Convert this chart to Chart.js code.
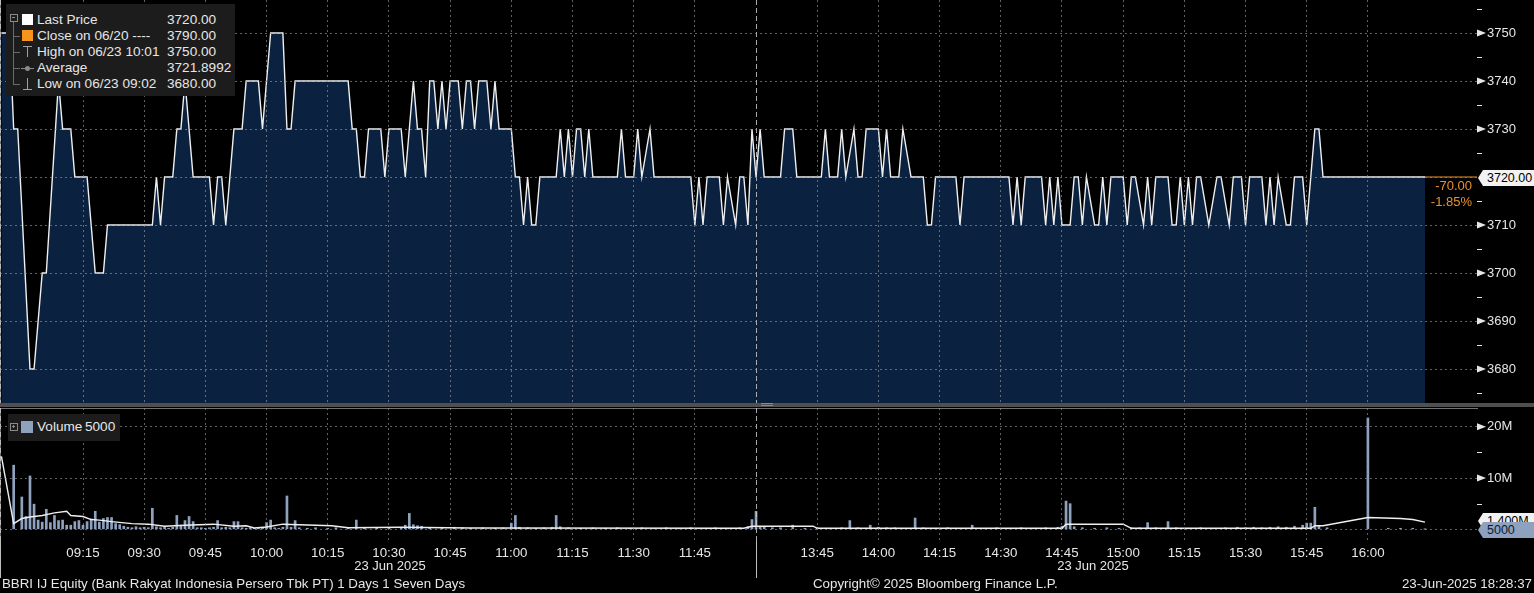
<!DOCTYPE html>
<html>
<head>
<meta charset="utf-8">
<script src="https://cdn.jsdelivr.net/npm/chart.js@4.4.1/dist/chart.umd.min.js"></script>
<style>
html, body { margin: 0; padding: 0; background: #000; overflow: hidden; }
body { width: 1534px; height: 593px; position: relative; font-family: 'Liberation Sans', Arial, sans-serif; color: #e6e6e6; }
canvas { position: absolute; left: 0; }
#cPrice { top: 0; }
#cVol { top: 408px; }
.abs { position: absolute; white-space: nowrap; }
.txt { font-size: 13px; line-height: 16px; }
.leg { font-size: 13.6px; line-height: 16px; }
.foot { font-size: 13.3px; line-height: 16px; }
.box { background: #1c1c1c; }
.tag { font-size: 12.5px; line-height: 16px; padding-left: 9px; clip-path: polygon(0 50%, 5px 0, 100% 0, 100% 100%, 5px 100%); }
</style>
</head>
<body>
<canvas id="cPrice" width="1534" height="403"></canvas>
<canvas id="cVol" width="1534" height="178"></canvas>

<!-- price legend -->
<div class="abs box" style="left:6px;top:4px;width:229px;height:92px"></div>
<div class="abs" style="left:10px;top:14px;width:6px;height:6px;border:1px solid #8a8a8a"></div>
<div class="abs" style="left:12px;top:17px;width:3px;height:1px;background:#8a8a8a"></div>
<div class="abs" style="left:13px;top:22px;width:1px;height:63px;background:#6a6a6a"></div>
<div class="abs" style="left:13px;top:36px;width:7px;height:1px;background:#6a6a6a"></div>
<div class="abs" style="left:13px;top:52px;width:7px;height:1px;background:#6a6a6a"></div>
<div class="abs" style="left:13px;top:68px;width:7px;height:1px;background:#6a6a6a"></div>
<div class="abs" style="left:13px;top:84px;width:7px;height:1px;background:#6a6a6a"></div>
<div class="abs" style="left:22px;top:14px;width:11px;height:11px;background:#fff"></div>
<div class="abs" style="left:22px;top:30px;width:11px;height:11px;background:#f7941d"></div>
<div class="abs" style="left:23px;top:46px;width:9px;height:1px;background:#a0a0a0"></div>
<div class="abs" style="left:27px;top:46px;width:1px;height:11px;background:#a0a0a0"></div>
<div class="abs" style="left:21px;top:68px;width:13px;height:1px;background:#8a8a8a"></div>
<div class="abs" style="left:25px;top:66px;width:5px;height:5px;border-radius:3px;background:#8a8a8a"></div>
<div class="abs" style="left:27px;top:78px;width:1px;height:11px;background:#a0a0a0"></div>
<div class="abs" style="left:23px;top:89px;width:9px;height:1px;background:#a0a0a0"></div>
<div class="abs leg" style="left:37px;top:12px">Last Price</div>
<div class="abs leg" style="left:167px;top:12px">3720.00</div>
<div class="abs leg" style="left:37px;top:28px">Close on 06/20 ----</div>
<div class="abs leg" style="left:167px;top:28px">3790.00</div>
<div class="abs leg" style="left:37px;top:44px">High on 06/23 10:01</div>
<div class="abs leg" style="left:167px;top:44px">3750.00</div>
<div class="abs leg" style="left:37px;top:60px">Average</div>
<div class="abs leg" style="left:167px;top:60px">3721.8992</div>
<div class="abs leg" style="left:37px;top:76px">Low on 06/23 09:02</div>
<div class="abs leg" style="left:167px;top:76px">3680.00</div>

<!-- last price tag and change -->
<div class="abs tag" style="left:1478px;top:170px;width:47px;height:16px;background:#f2f2f2;color:#000">3720.00</div>
<div class="abs txt" style="right:62px;top:178px;color:#e8902e;text-align:right">-70.00</div>
<div class="abs txt" style="right:62px;top:194px;color:#e8902e;text-align:right">-1.85%</div>

<!-- panel divider -->
<div class="abs" style="left:0;top:403px;width:1534px;height:4px;background:#4f4f4f"></div>
<div class="abs" style="left:761px;top:403px;width:12px;height:1px;background:#8a8a8a"></div>
<div class="abs" style="left:761px;top:405px;width:12px;height:1px;background:#8a8a8a"></div>

<!-- volume legend -->
<div class="abs box" style="left:8px;top:414px;width:112px;height:27px"></div>
<div class="abs" style="left:10px;top:423px;width:6px;height:6px;border:1px solid #8a8a8a"></div>
<div class="abs" style="left:12px;top:426px;width:3px;height:1px;background:#8a8a8a"></div>
<div class="abs" style="left:13px;top:425px;width:1px;height:3px;background:#8a8a8a"></div>
<div class="abs" style="left:21px;top:421px;width:12px;height:12px;background:#8ea2bf"></div>
<div class="abs leg" style="left:37px;top:419px">Volume</div>
<div class="abs leg" style="left:85px;top:419px">5000</div>

<!-- volume tags -->
<div class="abs tag" style="left:1478px;top:513px;width:47px;height:16px;background:#f2f2f2;color:#000">1.400M</div>
<div class="abs tag" style="left:1478px;top:522px;width:47px;height:16px;background:#8ea2bf;color:#0b1a33">5000</div>

<!-- bottom axis extras -->
<div class="abs" style="left:0;top:541px;width:1px;height:37px;background:#bdbdbd"></div>
<div class="abs" style="left:756px;top:541px;width:1px;height:37px;background:#bdbdbd"></div>
<div class="abs txt" style="left:340px;top:558px;width:100px;text-align:center">23 Jun 2025</div>
<div class="abs txt" style="left:1043px;top:558px;width:100px;text-align:center">23 Jun 2025</div>

<!-- footer -->
<div class="abs foot" style="left:2px;top:576px">BBRI IJ Equity (Bank Rakyat Indonesia Persero Tbk PT) 1 Days 1 Seven Days</div>
<div class="abs foot" style="left:813px;top:576px">Copyright© 2025 Bloomberg Finance L.P.</div>
<div class="abs foot" style="right:2px;top:576px">23-Jun-2025 18:28:37</div>

<script>
// ---- data ----
// last price, one vertex per traded minute where the line turns
const priceTimes = [
    '08:55', '08:57', '08:58', '08:59', '09:02', '09:03', '09:05', '09:06', '09:09', '09:10',
    '09:12', '09:13', '09:16', '09:18', '09:20', '09:21', '09:32', '09:33', '09:34', '09:35',
    '09:37', '09:38', '09:39', '09:40', '09:42', '09:46', '09:47', '09:48', '09:49', '09:50',
    '09:51', '09:52', '09:54', '09:55', '09:58', '09:59', '10:01', '10:04', '10:05', '10:06',
    '10:07', '10:20', '10:21', '10:22', '10:23', '10:24', '10:25', '10:28', '10:29', '10:30',
    '10:33', '10:34', '10:36', '10:37', '10:38', '10:39', '10:40', '10:41', '10:42', '10:43',
    '10:44', '10:45', '10:47', '10:48', '10:49', '10:50', '10:51', '10:52', '10:54', '10:55',
    '10:56', '10:57', '11:00', '11:01', '11:02', '11:03', '11:04', '11:05', '11:06', '11:07',
    '11:11', '11:12', '11:13', '11:14', '11:15', '11:16', '11:17', '11:18', '11:19', '11:20',
    '11:26', '11:27', '11:28', '11:30', '11:31', '11:32', '11:34', '11:35', '11:44', '11:45',
    '11:46', '11:47', '11:48', '11:51', '11:52', '11:53', '11:55', '11:56', '11:57', '11:58',
    '11:59', '13:30', '13:31', '13:32', '13:36', '13:37', '13:39', '13:40', '13:46', '13:47',
    '13:48', '13:50', '13:51', '13:52', '13:54', '13:55', '13:56', '13:57', '14:00', '14:01',
    '14:02', '14:03', '14:05', '14:06', '14:08', '14:11', '14:12', '14:13', '14:14', '14:19',
    '14:20', '14:21', '14:32', '14:33', '14:34', '14:35', '14:36', '14:40', '14:41', '14:42',
    '14:43', '14:44', '14:45', '14:47', '14:48', '14:49', '14:50', '14:51', '14:53', '14:54',
    '14:55', '14:56', '14:57', '15:00', '15:01', '15:02', '15:03', '15:05', '15:06', '15:07',
    '15:08', '15:11', '15:12', '15:13', '15:14', '15:15', '15:16', '15:17', '15:18', '15:19',
    '15:21', '15:23', '15:24', '15:26', '15:27', '15:29', '15:30', '15:31', '15:34', '15:35',
    '15:36', '15:37', '15:38', '15:40', '15:41', '15:42', '15:44', '15:45', '15:47', '15:48',
    '15:49', '16:14'
];
const priceValues = [
    3750, 3750, 3730, 3730, 3680, 3680, 3700, 3700, 3740, 3730,
    3730, 3720, 3720, 3700, 3700, 3710, 3710, 3720, 3710, 3720,
    3720, 3730, 3730, 3740, 3720, 3720, 3710, 3720, 3720, 3710,
    3720, 3730, 3730, 3740, 3740, 3730, 3750, 3750, 3730, 3730,
    3740, 3740, 3730, 3730, 3720, 3720, 3730, 3730, 3720, 3730,
    3730, 3720, 3740, 3730, 3730, 3720, 3740, 3740, 3730, 3740,
    3730, 3740, 3740, 3730, 3740, 3740, 3730, 3740, 3740, 3730,
    3740, 3730, 3730, 3720, 3720, 3710, 3720, 3710, 3710, 3720,
    3720, 3730, 3720, 3730, 3720, 3730, 3730, 3720, 3730, 3720,
    3720, 3730, 3720, 3720, 3730, 3720, 3730, 3720, 3720, 3710,
    3720, 3710, 3720, 3720, 3710, 3720, 3710, 3720, 3720, 3710,
    3730, 3720, 3730, 3720, 3720, 3730, 3730, 3720, 3720, 3730,
    3720, 3720, 3730, 3720, 3730, 3720, 3720, 3730, 3730, 3720,
    3730, 3720, 3720, 3730, 3720, 3720, 3710, 3710, 3720, 3720,
    3710, 3720, 3720, 3710, 3720, 3710, 3720, 3720, 3710, 3720,
    3710, 3720, 3710, 3710, 3720, 3720, 3710, 3720, 3710, 3710,
    3720, 3710, 3720, 3720, 3710, 3720, 3720, 3710, 3720, 3710,
    3720, 3720, 3710, 3710, 3720, 3710, 3720, 3710, 3720, 3720,
    3710, 3720, 3720, 3710, 3720, 3720, 3710, 3720, 3720, 3710,
    3720, 3710, 3720, 3710, 3710, 3720, 3720, 3710, 3730, 3730,
    3720, 3720
];

// volume per minute, millions of shares
const volTimes = [
    '08:58', '09:00', '09:01', '09:02', '09:03', '09:04', '09:05', '09:06', '09:07', '09:08',
    '09:09', '09:10', '09:11', '09:12', '09:13', '09:14', '09:15', '09:16', '09:17', '09:18',
    '09:19', '09:20', '09:21', '09:22', '09:23', '09:24', '09:25', '09:26', '09:27', '09:28',
    '09:29', '09:30', '09:31', '09:32', '09:33', '09:34', '09:35', '09:36', '09:37', '09:38',
    '09:39', '09:40', '09:41', '09:42', '09:43', '09:44', '09:45', '09:46', '09:47', '09:48',
    '09:49', '09:50', '09:51', '09:52', '09:53', '09:54', '09:55', '09:56', '09:57', '09:58',
    '09:59', '10:00', '10:01', '10:02', '10:03', '10:04', '10:05', '10:06', '10:07', '10:08',
    '10:10', '10:12', '10:15', '10:17', '10:20', '10:22', '10:24', '10:27', '10:30', '10:33',
    '10:34', '10:35', '10:36', '10:37', '10:38', '10:40', '10:43', '10:46', '10:48', '10:50',
    '10:53', '10:56', '10:58', '11:00', '11:01', '11:02', '11:04', '11:06', '11:08', '11:10',
    '11:11', '11:12', '11:14', '11:17', '11:20', '11:23', '11:26', '11:29', '11:32', '11:35',
    '11:38', '11:41', '11:44', '11:47', '11:50', '11:53', '11:56', '11:58', '11:59', '13:30',
    '13:31', '13:32', '13:34', '13:36', '13:39', '13:42', '13:45', '13:48', '13:51', '13:53',
    '13:55', '13:58', '14:00', '14:02', '14:04', '14:06', '14:09', '14:11', '14:14', '14:17',
    '14:20', '14:23', '14:26', '14:29', '14:32', '14:35', '14:38', '14:41', '14:44', '14:45',
    '14:46', '14:47', '14:48', '14:50', '14:53', '14:56', '14:59', '15:02', '15:04', '15:06',
    '15:08', '15:11', '15:13', '15:16', '15:19', '15:22', '15:25', '15:28', '15:30', '15:32',
    '15:34', '15:36', '15:38', '15:40', '15:42', '15:44', '15:45', '15:46', '15:47', '15:48',
    '15:50', '16:00', '16:05', '16:08', '16:11', '16:14'
];
const volValues = [
    12.5, 6.3, 2.5, 10.4, 4.9, 1.8, 1.4, 3.9, 1.3, 2.7,
    1.7, 1.8, 0.8, 0.8, 1.5, 1.7, 0.8, 1.5, 2.0, 3.5,
    1.4, 2.1, 2.3, 2.3, 1.1, 0.9, 0.6, 0.4, 0.3, 0.5,
    0.3, 0.4, 0.3, 4.1, 0.5, 0.3, 0.4, 0.2, 0.4, 2.7,
    0.8, 1.7, 2.5, 1.5, 0.3, 0.3, 0.2, 0.3, 0.4, 1.7,
    0.3, 0.4, 0.3, 1.5, 1.5, 0.3, 0.2, 0.3, 0.2, 0.3,
    0.2, 1.3, 1.8, 0.3, 0.2, 0.4, 6.5, 0.4, 1.7, 0.3,
    0.2, 0.3, 0.2, 0.3, 0.2, 1.8, 0.2, 0.3, 0.2, 0.3,
    0.8, 3.1, 0.9, 0.7, 0.6, 0.3, 0.2, 0.4, 0.3, 0.2,
    0.3, 0.2, 0.3, 1.2, 2.7, 0.4, 0.3, 0.2, 0.3, 0.4,
    2.7, 0.5, 0.3, 0.2, 0.3, 0.2, 0.3, 0.2, 0.3, 0.2,
    0.3, 0.2, 0.3, 0.2, 0.3, 0.2, 0.3, 0.5, 1.9, 3.5,
    0.6, 0.4, 0.3, 0.3, 0.8, 0.2, 0.3, 0.2, 0.3, 1.7,
    0.3, 0.8, 0.4, 0.3, 0.3, 0.2, 2.2, 0.3, 0.2, 0.3,
    0.2, 0.8, 0.2, 0.3, 0.2, 0.3, 0.2, 0.3, 0.4, 0.6,
    5.5, 5.0, 0.5, 0.3, 0.2, 0.3, 0.2, 0.3, 0.3, 1.3,
    0.3, 1.5, 0.3, 0.2, 0.3, 0.2, 0.3, 0.4, 0.3, 0.4,
    0.3, 0.4, 0.5, 0.4, 0.6, 0.8, 1.2, 1.2, 4.3, 0.6,
    0.3, 21.7, 0.2, 0.2, 0.2, 0.005
];

// running average of volume (white line in lower panel)
const avgTimes = [
    '08:55', '08:58', '09:00', '09:02', '09:05', '09:08', '09:11', '09:12', '09:15', '09:17',
    '09:19', '09:22', '09:27', '09:31', '09:35', '09:40', '09:47', '09:52', '09:55', '09:57',
    '10:00', '10:04', '10:08', '10:16', '10:20', '10:33', '10:50', '11:57', '11:59', '13:44',
    '13:45', '14:45', '14:46', '15:00', '15:02', '15:46', '15:47', '15:49', '16:00', '16:08',
    '16:11', '16:14'
];
const avgValues = [
    14.2, 1.1, 2.1, 2.4, 2.7, 3.2, 3.5, 2.7, 2.5, 1.9,
    1.8, 1.5, 1.1, 1.0, 0.6, 0.8, 1.0, 0.6, 0.7, 0.25,
    0.45, 1.0, 0.9, 0.7, 0.3, 0.4, 0.25, 0.2, 0.6, 0.6,
    0.2, 0.2, 1.0, 1.0, 0.2, 0.2, 0.7, 0.7, 2.3, 2.1,
    1.9, 1.4
];

const lastPrice = 3720;
const priceTicks = [3680, 3690, 3700, 3710, 3720, 3730, 3740, 3750];
const priceMinor = [3675, 3685, 3695, 3705, 3715, 3725, 3735, 3745, 3755];
const volTicks = [0, 5, 10, 15, 20];
const timeTicks = ['09:15', '09:30', '09:45', '10:00', '10:15', '10:30', '10:45', '11:00', '11:15', '11:30', '11:45',
    '13:45', '14:00', '14:15', '14:30', '14:45', '15:00', '15:15', '15:30', '15:45', '16:00'];

// ---- trading-time axis: morning session from 09:00, afternoon glued on at 13:30 ----
const BREAK = 180;
function toAxis(t) {
    let [h, m] = t.split(':').map(Number);
    let v = h * 60 + m;
    if (v >= 13 * 60 + 30) return v - (13 * 60 + 30) + BREAK;
    return v - 9 * 60;
}
function toClock(v) {
    let mins = v <= BREAK ? 9 * 60 + v : 13 * 60 + 30 + (v - BREAK);
    let h = Math.floor(mins / 60), m = Math.round(mins % 60);
    return String(h).padStart(2, '0') + ':' + String(m).padStart(2, '0');
}

const X_MIN = -5.35;
const X_MAX = 356.75;
const TXT = '#e6e6e6';
const GRID = 'rgba(150,150,150,0.65)';
const NAVY = '#0a2140';

Chart.defaults.font.family = "'Liberation Sans', Arial, sans-serif";
Chart.defaults.font.size = 13;
Chart.defaults.color = TXT;

let xTickVals = timeTicks.map(toAxis);

// little arrows on the right axis, and short minor ticks
const axisMarks = {
    id: 'axisMarks',
    afterDraw(chart, args, opts) {
        let ys = chart.scales.y;
        let ctx = chart.ctx;
        let x0 = chart.chartArea.right;
        ctx.save();
        ctx.fillStyle = TXT;
        ctx.strokeStyle = TXT;
        ctx.lineWidth = 1;
        opts.major.forEach(v => {
            let y = ys.getPixelForValue(v);
            ctx.beginPath();
            ctx.moveTo(x0, y - 3.5);
            ctx.lineTo(x0 + 9, y);
            ctx.lineTo(x0, y + 3.5);
            ctx.closePath();
            ctx.fill();
        });
        opts.minor.forEach(v => {
            let y = Math.round(ys.getPixelForValue(v)) + 0.5;
            ctx.beginPath();
            ctx.moveTo(x0, y);
            ctx.lineTo(x0 + 5, y);
            ctx.stroke();
        });
        ctx.restore();
    }
};

// session start / lunch break markers
const sessionLines = {
    id: 'sessionLines',
    afterDatasetsDraw(chart) {
        let xs = chart.scales.x;
        let ctx = chart.ctx;
        let {top, bottom} = chart.chartArea;
        ctx.save();
        ctx.strokeStyle = 'rgba(200,200,200,0.85)';
        ctx.lineWidth = 1;
        ctx.setLineDash([5, 3]);
        [X_MIN, BREAK].forEach(v => {
            let x = Math.round(xs.getPixelForValue(v)) + 0.5;
            ctx.beginPath();
            ctx.moveTo(x, top);
            ctx.lineTo(x, bottom);
            ctx.stroke();
        });
        ctx.restore();
    }
};

function xScale(showLabels) {
    return {
        type: 'linear',
        min: X_MIN,
        max: X_MAX,
        bounds: 'data',
        offset: false,
        afterBuildTicks: s => { s.ticks = xTickVals.map(v => ({value: v})); },
        afterFit: s => {
            s.paddingLeft = 0;
            s.paddingRight = 0;
            s.height = showLabels ? 45 : 0;
        },
        ticks: {
            display: showLabels,
            autoSkip: false,
            maxRotation: 0,
            padding: 4,
            color: TXT,
            font: { size: 13.3 },
            callback: v => toClock(v)
        },
        grid: { color: GRID, drawTicks: false, offset: false, z: 1 },
        border: { display: showLabels, color: TXT, width: 1, dash: [2, 3] }
    };
}

let pricePts = priceTimes.map((t, i) => ({x: toAxis(t), y: priceValues[i]}));
let lastX = toAxis(priceTimes[priceTimes.length - 1]);

new Chart(document.getElementById('cPrice').getContext('2d'), {
    type: 'line',
    data: {
        datasets: [{
            data: pricePts,
            borderColor: '#efefef',
            borderWidth: 1.4,
            backgroundColor: NAVY,
            fill: 'start',
            pointRadius: 0,
            tension: 0
        }, {
            data: [{x: lastX, y: lastPrice}, {x: X_MAX, y: lastPrice}],
            borderColor: '#e8902e',
            borderWidth: 1,
            pointRadius: 0,
            fill: false
        }]
    },
    options: {
        responsive: false,
        devicePixelRatio: 1,
        animation: false,
        layout: { padding: 0 },
        plugins: {
            legend: { display: false },
            tooltip: { enabled: false },
            axisMarks: { major: priceTicks.filter(v => v !== lastPrice), minor: priceMinor }
        },
        scales: {
            x: xScale(false),
            y: {
                position: 'right',
                min: 3672.92,
                max: 3756.875,
                afterBuildTicks: s => { s.ticks = priceTicks.map(v => ({value: v})); },
                afterFit: s => { s.width = 57; s.paddingTop = 0; s.paddingBottom = 0; },
                ticks: {
                    padding: 10,
                    color: TXT,
                    callback: v => v === lastPrice ? '' : String(v)
                },
                grid: { color: GRID, drawTicks: false, z: 1 },
                border: { color: TXT, width: 1, dash: [2, 3] }
            }
        }
    },
    plugins: [axisMarks, sessionLines]
});

let volPts = volTimes.map((t, i) => ({x: toAxis(t), y: volValues[i]}));
let avgPts = avgTimes.map((t, i) => ({x: toAxis(t), y: avgValues[i]}));

new Chart(document.getElementById('cVol').getContext('2d'), {
    type: 'bar',
    data: {
        datasets: [{
            type: 'line',
            data: avgPts,
            borderColor: '#efefef',
            borderWidth: 1.4,
            pointRadius: 0,
            tension: 0,
            order: 0
        }, {
            type: 'bar',
            data: volPts,
            backgroundColor: '#8ea2bf',
            barThickness: 2,
            order: 1
        }]
    },
    options: {
        responsive: false,
        devicePixelRatio: 1,
        animation: false,
        layout: { padding: 0 },
        plugins: {
            legend: { display: false },
            tooltip: { enabled: false },
            axisMarks: { major: [10, 20], minor: [5, 15] }
        },
        scales: {
            x: xScale(true),
            y: {
                position: 'right',
                min: -2.28,
                max: 23.65,
                afterBuildTicks: s => { s.ticks = volTicks.map(v => ({value: v})); },
                afterFit: s => { s.width = 57; s.paddingTop = 0; s.paddingBottom = 0; },
                ticks: {
                    padding: 10,
                    color: TXT,
                    callback: v => (v === 10 || v === 20) ? v + 'M' : ''
                },
                grid: {
                    color: ctx => (ctx.tick && (ctx.tick.value === 5 || ctx.tick.value === 15)) ? 'rgba(0,0,0,0)' : GRID,
                    drawTicks: false,
                    z: 1
                },
                border: { color: TXT, width: 1, dash: [2, 3] }
            }
        }
    },
    plugins: [axisMarks, sessionLines]
});
</script>
</body>
</html>
